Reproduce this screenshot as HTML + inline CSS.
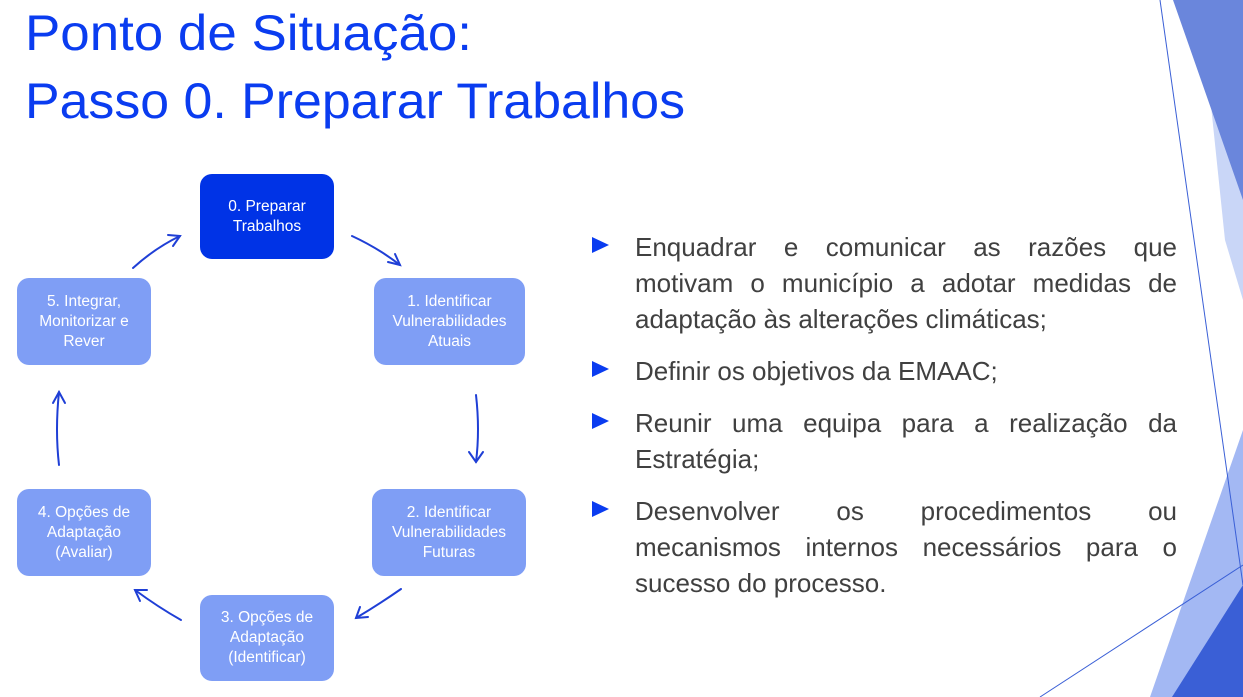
<!DOCTYPE html>
<html><head><meta charset="utf-8"><style>
body{margin:0;width:1243px;height:697px;overflow:hidden;background:#fff;position:relative;font-family:"Liberation Sans",sans-serif}
.t{position:absolute;left:635px;width:542px;font-size:26px;line-height:36px;color:#404040}
.j{text-align:justify;text-align-last:justify;height:36px}
.b{position:absolute;left:592px;width:0;height:0;border-left:17px solid #0a3cf0;border-top:8.5px solid transparent;border-bottom:8.5px solid transparent}
.box{position:absolute;border-radius:12px;background:#7f9ef5;color:#fff;font-size:15.5px;line-height:20px;display:flex;align-items:center;justify-content:center;text-align:center}
</style></head><body>
<svg width="1243" height="697" style="position:absolute;left:0;top:0">
<polygon points="1200,0 1243,0 1243,300 1225,240" fill="#c9d6f7"/>
<polygon points="1173,0 1243,0 1243,200" fill="#6a86dc"/>
<polygon points="1243,430 1150,697 1243,697" fill="#a3b8f3"/>
<polygon points="1243,585 1172,697 1243,697" fill="#3a5fd6"/>
<line x1="1160" y1="0" x2="1243" y2="585" stroke="#3a5fd6" stroke-width="1"/>
<line x1="1040" y1="697" x2="1243" y2="565" stroke="#3a5fd6" stroke-width="1"/>
<text x="25" y="50" font-size="50" fill="#0a3cf0" textLength="447" lengthAdjust="spacingAndGlyphs">Ponto de Situação:</text>
<text x="25" y="118" font-size="50" fill="#0a3cf0" textLength="660" lengthAdjust="spacingAndGlyphs">Passo 0. Preparar Trabalhos</text>
<g fill="none" stroke="#1f3fd6" stroke-width="2" stroke-linecap="round">
<path d="M352,236 Q378,248 400,265"/><path d="M388,262 L400,265 L395,254"/>
<path d="M476,395 Q480,430 476,462"/><path d="M469,452 L476,462 L483,452"/>
<path d="M401,589 Q378,605 356,618"/><path d="M360,607 L356,618 L368,617"/>
<path d="M181,620 Q158,607 135,590"/><path d="M147,590 L135,590 L140,601"/>
<path d="M59,465 Q55,430 59,392"/><path d="M53,403 L59,392 L65,403"/>
<path d="M133,268 Q155,248 180,236"/><path d="M168,235 L180,236 L173,246"/>
</g>
</svg>
<div class="box" style="left:200px;top:174px;width:134px;height:85px;background:#0033e6">0. Preparar<br>Trabalhos</div>
<div class="box" style="left:374px;top:278px;width:151px;height:87px">1. Identificar<br>Vulnerabilidades<br>Atuais</div>
<div class="box" style="left:372px;top:489px;width:154px;height:87px">2. Identificar<br>Vulnerabilidades<br>Futuras</div>
<div class="box" style="left:200px;top:595px;width:134px;height:86px">3. Opções de<br>Adaptação<br>(Identificar)</div>
<div class="box" style="left:17px;top:489px;width:134px;height:87px">4. Opções de<br>Adaptação<br>(Avaliar)</div>
<div class="box" style="left:17px;top:278px;width:134px;height:87px">5. Integrar,<br>Monitorizar e<br>Rever</div>

<div class="b" style="top:237px"></div>
<div class="b" style="top:361px"></div>
<div class="b" style="top:413px"></div>
<div class="b" style="top:501px"></div>
<div class="t" style="top:229px"><div class="j">Enquadrar e comunicar as razões que</div><div class="j">motivam o município a adotar medidas de</div><div>adaptação às alterações climáticas;</div></div>
<div class="t" style="top:353px"><div>Definir os objetivos da EMAAC;</div></div>
<div class="t" style="top:405px"><div class="j">Reunir uma equipa para a realização da</div><div>Estratégia;</div></div>
<div class="t" style="top:493px"><div class="j">Desenvolver os procedimentos ou</div><div class="j">mecanismos internos necessários para o</div><div>sucesso do processo.</div></div>
</body></html>
